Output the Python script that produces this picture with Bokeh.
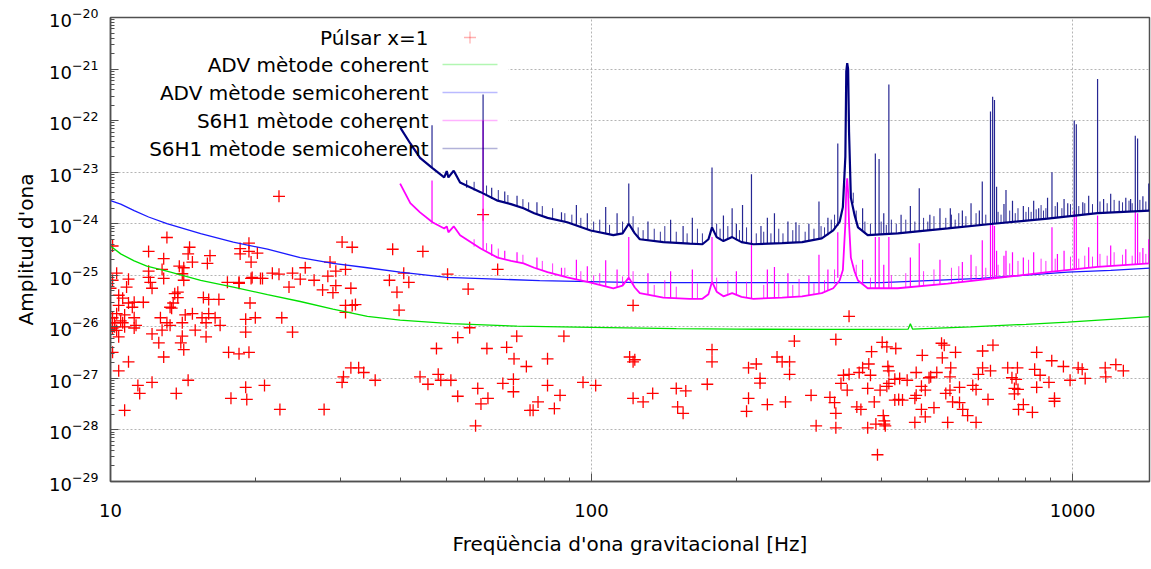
from bokeh.plotting import figure
from bokeh.models import (FixedTicker, CustomJSTickFormatter, Label, BoxAnnotation)
from bokeh.embed import file_html
from bokeh.resources import INLINE

FONT = "DejaVu Sans"

# ---------------- data ----------------
pulsar_f = [22.4, 13.1, 10.1, 12.0, 14.6, 14.5, 12.9, 16.1, 14.8, 15.9, 13.9, 14.2, 12.0, 12.8, 10.3, 12.0, 12.9, 14.1, 14.2, 10.9,
            10.1, 10.8, 12.1, 12.2, 10.0, 13.8, 17.5, 18.5, 19.6, 20.7, 19.5, 15.6, 16.0, 16.8, 13.8, 13.5, 13.3, 11.7, 11.2, 10.6,
            10.4, 10.4, 10.9, 11.1, 10.1, 10.3, 10.0, 10.2, 10.6, 10.7, 11.2, 11.3, 11.2, 10.1, 10.7, 10.4, 10.1, 10.9, 10.4, 10.7,
            11.4, 11.5, 12.2, 13.7, 14.5, 12.9, 12.6, 12.2, 12.8, 12.7, 13.1, 13.3, 14.1, 14.3, 14.8, 15.0, 14.1, 14.0, 14.2, 15.8,
            15.8, 15.5, 16.5, 16.9, 16.0, 17.6, 18.5, 19.4, 19.1, 19.1, 20.0, 23.9, 22.7, 19.1, 17.8, 19.2, 20.9, 22.5, 27.8, 30.5,
            31.6, 30.3, 21.7, 22.4, 23.5, 23.9, 24.8, 25.4, 26.5, 27.6, 28.3, 29.4, 29.4, 29.0, 30.3, 31.8, 28.6, 30.8, 31.6, 30.8,
            30.8, 31.8, 19.4, 18.6, 18.6, 19.4, 20.2, 19.6, 19.7, 20.5, 18.5, 13.6, 13.4, 10.0, 10.2, 10.5, 10.3, 10.0,
            38.6, 44.6, 40.7, 38.0, 41.7, 50.2, 63.8, 59.5, 39.4, 55.4, 32.3, 39.8, 122, 55.8, 52.7, 47.6, 60.6, 66.6, 69.9, 87.6,
            69.0, 81.0, 73.2, 120, 122, 32.8, 33.6, 35.5, 44.0, 48.0, 48.6, 51.0, 45.7, 65.4, 68.8, 68.8, 81.0, 96.0, 102, 58.0,
            52.7, 60.9, 58.9, 77.4, 86.0, 74.5, 75.6, 83.7, 57.4, 122,
            343, 264, 322, 178, 178, 123, 243, 249, 220, 212, 258, 258, 224, 224, 174, 150, 157, 134, 128, 151,
            155, 212, 210, 232, 253, 286, 293, 322, 322, 313, 320, 340, 330, 334, 343, 360, 366, 377, 380, 382,
            402, 411, 415, 415, 398, 375, 387, 356, 363, 375, 390, 404, 408, 393,
            429, 487, 534, 541, 536, 571, 650, 683, 842, 905, 957, 1047, 1062, 1169, 1230, 1275, 1172, 988, 893, 842,
            856, 834, 768, 733, 748, 763, 757, 770, 757, 650, 675, 637, 620, 630, 667, 790, 772, 825, 917, 917,
            558, 556, 522, 503, 473, 453, 437, 427, 413, 411, 485, 494, 473, 507, 545, 556, 582, 563, 582, 591,
            605, 630, 550, 515, 485, 494, 470, 435, 443, 427, 470, 406, 406, 1027]
pulsar_h = [3.4e-24, 5.4e-25, 3.7e-25, 2.9e-25, 3.5e-25, 2.6e-25, 2.1e-25, 2.4e-25, 1.8e-25, 1.7e-25, 1.5e-25, 1.4e-25, 1.2e-25, 1.3e-25, 1.1e-25, 9.1e-26, 8.7e-26, 1.07e-25, 8.0e-26, 8.4e-26,
            8.0e-26, 5.9e-26, 7.3e-26, 5.6e-26, 5.6e-26, 4.7e-26, 7.3e-26, 7.3e-26, 8.7e-26, 8.7e-26, 2.9e-26, 3.7e-26, 3.4e-26, 3.4e-26, 3.7e-26, 2.9e-26, 2.4e-26, 3.0e-26, 3.0e-26, 3.6e-26,
            4.1e-26, 2.6e-26, 2.9e-26, 2.4e-26, 1.5e-26, 1.8e-26, 1.2e-26, 1.2e-26, 1.2e-26, 1.7e-26, 1.5e-26, 1.07e-26, 9.5e-27, 9.5e-27, 1.0e-26, 6.4e-27, 3.2e-27, 2.1e-27, 1.4e-27, 2.4e-28,
            7.3e-28, 5.1e-28, 8.4e-28, 5.1e-28, 9.2e-28, 2.6e-27, 4.9e-27, 7.3e-27, 8.6e-27, 1.5e-26, 1.2e-26, 1.07e-26, 1.2e-26, 1.7e-26, 1.8e-26, 8.6e-27, 6.6e-27, 4.9e-27, 3.6e-27, 6.4e-27,
            1.2e-26, 1.5e-26, 1.5e-26, 1.07e-26, 1.8e-26, 3.2e-27, 3.0e-27, 3.2e-27, 1.4e-26, 7.9e-27, 1.5e-26, 7.9e-27, 1.5e-26, 6.7e-28, 4.1e-28, 3.9e-28, 7.3e-28, 2.5e-28, 2.5e-28, 1.07e-27,
            1.6e-27, 8.4e-28, 1.1e-25, 1.05e-25, 5.9e-26, 1.1e-25, 8.4e-26, 1.4e-25, 8.0e-26, 5.2e-26, 9.6e-26, 1.2e-25, 6.3e-26, 4.6e-26, 4.4e-25, 3.5e-25, 1.8e-25, 1.3e-25, 5.6e-26, 2.6e-26,
            1.9e-26, 2.6e-26, 4.2e-25, 3.3e-25, 2.6e-25, 2.9e-25, 2.7e-25, 1.8e-25, 9.1e-26, 8.7e-26, 7.0e-26, 4.4e-26, 2.3e-26, 1.5e-26, 1.0e-26, 1.3e-26, 8.5e-27, 9.0e-27,
            3.2e-25, 2.9e-25, 1.1e-25, 8.0e-26, 7.3e-26, 1.05e-25, 1.3e-25, 1.5e-24, 4.7e-26, 5.4e-26, 2.7e-26, 2.1e-26, 2.6e-26, 9.6e-27, 6.2e-27, 3.8e-27, 3.8e-27, 4.0e-27, 6.6e-27, 6.6e-27,
            2.4e-27, 2.4e-27, 1.7e-27, 2.6e-27, 2.1e-27, 1.6e-27, 1.3e-27, 9.2e-28, 1.07e-27, 1.2e-27, 9.2e-28, 9.2e-28, 7.7e-28, 8.0e-28, 9.6e-28, 5.5e-28, 7.3e-28, 8.4e-28, 7.3e-28, 6.4e-28,
            4.5e-28, 4.1e-28, 3.2e-28, 3.5e-28, 4.7e-28, 2.4e-28, 2.4e-28, 2.6e-28, 1.2e-28, 4.1e-28,
            1.6e-26, 5.3e-27, 5.7e-27, 3.6e-27, 2.1e-27, 2.3e-27, 2.6e-27, 2.1e-27, 1.9e-27, 1.6e-27, 2.1e-27, 1.2e-27, 1.0e-27, 8.1e-28, 7.7e-28, 6.4e-28, 5.7e-28, 5.1e-28, 3.5e-28, 2.8e-28,
            2.1e-28, 4.1e-28, 2.3e-28, 3.1e-28, 3.5e-28, 4.7e-28, 1.2e-28, 1.1e-28, 2.1e-28, 4.3e-28, 3.4e-28, 5.9e-28, 8.0e-28, 1.15e-27, 1.2e-27, 1.3e-27, 1.6e-27, 1.9e-27, 1.15e-27, 3.3e-27,
            5.0e-27, 4.1e-27, 1.4e-27, 8.0e-28, 5.9e-28, 6.4e-28, 3.5e-28, 2.8e-28, 2.5e-28, 1.1e-28, 1.3e-28, 1.9e-28, 1.2e-28, 3.3e-29,
            3.8e-27, 2.8e-27, 4.8e-27, 4.4e-27, 2.5e-27, 3.2e-27, 3.4e-27, 4.4e-27, 3.2e-27, 2.2e-27, 1.7e-27, 1.5e-27, 1.0e-27, 1.6e-27, 1.85e-27, 1.4e-27, 1.07e-27, 9.2e-28, 8.4e-28, 6.7e-28,
            1.15e-27, 1.5e-27, 1.6e-27, 1.6e-27, 1.03e-27, 9.6e-28, 6.4e-28, 6.1e-28, 5.0e-28, 1.6e-27, 1.4e-27, 1.2e-27, 7.3e-28, 6.1e-28, 3.9e-28, 3.1e-28, 2.5e-28, 2.2e-28, 4.1e-28, 3.6e-28,
            1.6e-27, 1.07e-27, 1.3e-27, 1.03e-27, 1.3e-27, 9.2e-28, 1.0e-27, 9.6e-28, 1.7e-27, 7.0e-28, 7.0e-28, 5.9e-28, 4.7e-28, 1.07e-27, 5.1e-28, 5.9e-28, 6.7e-28, 3.5e-28, 3.4e-28, 2.5e-28,
            1.9e-28, 1.4e-28, 1.4e-28, 2.7e-28, 2.5e-28, 1.8e-28, 1.4e-28, 3.9e-28, 3.8e-28, 3.8e-28, 4.1e-28, 1.5e-28, 1.3e-28, 1.6e-27]

adv_coh_f = [10, 10.5, 11.2, 11.9, 13.1, 15.4, 18, 21.2, 24.8, 29, 34.2, 40, 51, 70, 100, 150, 200, 300, 400, 455, 460, 465, 614, 800, 977, 1200, 1450]
adv_coh_h = [3.7e-25, 2.6e-25, 1.9e-25, 1.5e-25, 1.2e-25, 8.0e-26, 5.9e-26, 4.2e-26, 3.1e-26, 2.2e-26, 1.6e-26, 1.35e-26, 1.15e-26, 1.03e-26,
             9.8e-27, 9.2e-27, 9.0e-27, 8.9e-27, 8.9e-27, 9.0e-27, 1.15e-26, 9.0e-27, 1.0e-26, 1.12e-26, 1.23e-26, 1.4e-26, 1.58e-26]

adv_semi_f = [10, 10.5, 11.2, 12.0, 13.1, 15.4, 18, 21.2, 24.8, 29, 34.2, 40, 50, 78, 126, 200, 400, 644, 977, 1200, 1450]
adv_semi_h = [2.8e-24, 2.4e-24, 1.8e-24, 1.35e-24, 1.0e-24, 6.4e-25, 4.4e-25, 3.2e-25, 2.2e-25, 1.7e-25, 1.4e-25, 1.15e-25, 9.1e-26,
              7.9e-26, 7.2e-26, 7.2e-26, 7.2e-26, 8.7e-26, 1.15e-25, 1.25e-25, 1.38e-25]

s6_coh_f = [40, 42, 44, 46.7, 49.4, 50.0, 50.4, 51.7, 53.3, 58.8, 63.8, 68, 72.2, 76, 81, 89, 99.6, 111, 116, 119.5, 123, 126, 141, 160,
            170, 175, 178, 182, 188, 196, 205, 217, 249, 274, 301, 318, 328, 333, 337, 338.5, 340, 341.5, 343, 346, 352, 358, 375, 433,
            550, 685, 887, 1127, 1445]
s6_coh_h = [6.0e-24, 2.5e-24, 1.66e-24, 1.07e-24, 8.1e-25, 8.9e-25, 6.8e-25, 8.9e-25, 6.0e-25, 3.3e-25, 2.2e-25, 1.9e-25, 1.7e-25, 1.4e-25,
            1.15e-25, 9.1e-26, 7.2e-26, 5.6e-26, 6.3e-26, 9.0e-26, 5.8e-26, 4.5e-26, 3.7e-26, 3.5e-26, 3.5e-26, 4.3e-26, 7.5e-26, 4.8e-26,
            3.9e-26, 4.5e-26, 3.8e-26, 3.5e-26, 3.7e-26, 3.9e-26, 4.5e-26, 5.6e-26, 8.0e-26, 1.26e-25, 1.0e-24, 5.0e-24, 7.6e-24, 4.0e-24,
            1.0e-24, 2.2e-25, 1.2e-25, 7.9e-26, 5.6e-26, 5.6e-26, 6.9e-26, 8.7e-26, 1.15e-25, 1.45e-25, 1.7e-25]

s6_semi_f = s6_coh_f
s6_semi_h = [7.4e-23, 3.6e-23, 1.9e-23, 1.2e-23, 7.9e-24, 1.05e-23, 7.9e-24, 1.07e-23, 6.3e-24, 4.1e-24, 2.8e-24, 2.4e-24, 2.0e-24, 1.6e-24,
             1.3e-24, 1.07e-24, 7.4e-25, 6.0e-25, 6.5e-25, 1.0e-24, 6.5e-25, 5.0e-25, 4.4e-25, 4.1e-25, 4.0e-25, 5.0e-25, 8.5e-25, 5.5e-25,
             4.6e-25, 5.5e-25, 4.4e-25, 4.0e-25, 4.2e-25, 4.4e-25, 5.2e-25, 7.4e-25, 1.1e-24, 2.1e-24, 2.0e-23, 9.0e-22, 1.3e-21, 1.0e-21,
             6.0e-23, 3.2e-24, 1.5e-24, 8.5e-25, 6.0e-25, 6.5e-25, 8.1e-25, 1.0e-24, 1.26e-24, 1.6e-24, 1.8e-24]

# narrow lines (spikes) of the S6H1 spectra: frequency, peak value, floor value
coh_spike_f = [46.6, 59.5, 86.6, 107, 119.5, 178, 215, 240, 297, 325, 389, 396, 415, 480, 649, 675, 682, 688, 695, 727, 906, 1008,
               1018, 1127, 1350, 1365, 1440, 62, 66, 70, 77, 93, 98, 113, 131, 146, 162, 200, 232, 256, 283, 310, 366, 405, 460, 530,
               590, 615, 720, 750, 790, 830, 930, 960, 1080, 1200, 1290, 1400]
coh_spike_top = [6.9e-24, 1.0e-22, 1.4e-25, 1.95e-25, 5.5e-25, 5.5e-25, 4.8e-25, 1.45e-25, 2.5e-25, 6.8e-25, 5.5e-25, 5.5e-25, 5.5e-25,
                 4.2e-25, 4.8e-25, 1.0e-24, 1.07e-24, 9.0e-25, 3.0e-25, 3.0e-25, 8.5e-25, 1.8e-24, 1.5e-24, 1.45e-24, 1.8e-24, 1.6e-24,
                 5.0e-25, 4.0e-25, 3.0e-25, 2.8e-25, 2.2e-25, 2.0e-25, 1.5e-25, 1.3e-25, 1.1e-25, 1.2e-25, 1.3e-25, 1.2e-25, 1.3e-25,
                 1.1e-25, 1.0e-25, 1.3e-25, 2.0e-25, 1.6e-25, 2.2e-25, 2.0e-25, 1.8e-25, 2.5e-25, 2.4e-25, 2.8e-25, 2.2e-25, 2.8e-25,
                 2.6e-25, 3.0e-25, 3.5e-25, 3.8e-25, 3.2e-25, 3.4e-25]
coh_spike_base = [1.07e-24, 3.2e-25, 9.8e-26, 6.0e-26, 9.0e-26, 7.5e-26, 3.5e-26, 3.6e-26, 4.5e-26, 9.0e-26, 5.6e-26, 5.6e-26, 5.6e-26,
                  6.0e-26, 8.3e-26, 8.6e-26, 8.7e-26, 8.7e-26, 8.8e-26, 9.2e-26, 1.17e-25, 1.28e-25, 1.29e-25, 1.45e-25, 1.6e-25, 1.62e-25,
                  1.7e-25, 2.4e-25, 2.1e-25, 1.8e-25, 1.35e-25, 8.5e-26, 7.4e-26, 5.8e-26, 4.2e-26, 3.6e-26, 3.5e-26, 4.2e-26, 3.6e-26,
                  3.8e-26, 4.1e-26, 5.0e-26, 6.5e-26, 5.6e-26, 5.9e-26, 6.7e-26, 7.4e-26, 7.8e-26, 9.1e-26, 9.6e-26, 1.03e-25, 1.08e-25,
                  1.2e-25, 1.23e-25, 1.38e-25, 1.5e-25, 1.57e-25, 1.67e-25]

coh_grass_f = [57, 60.5, 64, 72, 79, 83, 88, 95, 101, 104, 116, 122, 135, 142, 150, 166, 182, 192, 210, 228, 245, 262, 270, 290, 305,
               320, 355, 380, 420, 450, 490, 515, 560, 580, 630, 660, 700, 740, 770, 810, 860, 880, 920, 990, 1030, 1060, 1100, 1140,
               1180, 1220, 1270, 1330, 1380, 1420]
coh_grass_top = [5.0e-25, 4.2e-25, 3.3e-25, 2.5e-25, 1.9e-25, 1.7e-25, 1.4e-25, 1.2e-25, 1.0e-25, 1.1e-25, 9.5e-26, 1.2e-25, 6.5e-26,
                 8.0e-26, 6.0e-26, 7.0e-26, 9.0e-26, 8.0e-26, 7.5e-26, 6.5e-26, 7.0e-26, 6.5e-26, 8.5e-26, 7.0e-26, 8.0e-26, 1.3e-25,
                 1.6e-25, 9.0e-26, 1.0e-25, 1.1e-25, 1.2e-25, 1.3e-25, 1.4e-25, 1.5e-25, 1.5e-25, 1.4e-25, 1.6e-25, 1.7e-25, 1.9e-25,
                 2.0e-25, 2.1e-25, 1.9e-25, 2.1e-25, 2.3e-25, 2.1e-25, 2.4e-25, 2.3e-25, 2.6e-25, 2.4e-25, 2.8e-25, 2.5e-25, 2.4e-25,
                 2.8e-25, 2.6e-25]
coh_grass_base = [3.6e-25, 3.0e-25, 2.2e-25, 1.7e-25, 1.25e-25, 1.1e-25, 9.3e-26, 8.0e-26, 7.0e-26, 6.5e-26, 6.3e-26, 6.5e-26, 4.0e-26,
                  3.7e-26, 3.6e-26, 3.5e-26, 4.8e-26, 4.3e-26, 3.7e-26, 3.5e-26, 3.7e-26, 3.8e-26, 3.9e-26, 4.2e-26, 4.8e-26, 6.8e-26,
                  9.5e-26, 5.6e-26, 5.6e-26, 5.8e-26, 6.2e-26, 6.5e-26, 7.0e-26, 7.2e-26, 7.9e-26, 8.3e-26, 8.8e-26, 9.4e-26, 9.8e-26,
                  1.04e-25, 1.11e-25, 1.14e-25, 1.19e-25, 1.27e-25, 1.32e-25, 1.36e-25, 1.42e-25, 1.47e-25, 1.5e-25, 1.53e-25, 1.56e-25,
                  1.6e-25, 1.64e-25, 1.68e-25]

semi_spike_f = [46.6, 59.5, 86.6, 107, 119.5, 178, 188, 196, 206, 215, 240, 266, 297, 325, 389, 396, 415, 480, 557, 649, 675, 682,
                688, 695, 727, 887, 906, 977, 1008, 1018, 1127, 1320, 1350, 1365, 1440, 55, 62, 66, 70, 77, 93, 98, 113, 131, 146, 155,
                162, 200, 225, 232, 256, 283, 310, 366, 405, 440, 460, 505, 530, 590, 615, 640, 720, 750, 790, 830, 850, 930, 960, 1050,
                1080, 1160, 1200, 1250, 1290, 1400]
semi_spike_top = [8.1e-23, 3.2e-22, 1.66e-24, 2.1e-24, 6.0e-24, 1.23e-23, 1.45e-24, 2.0e-24, 2.3e-24, 9.1e-24, 1.6e-24, 1.07e-24,
                  2.7e-24, 3.6e-23, 2.3e-23, 1.8e-23, 5.0e-22, 4.9e-24, 2.0e-24, 6.6e-24, 1.5e-22, 2.9e-22, 2.5e-22, 5.2e-24, 4.5e-24,
                  3.2e-24, 1.0e-23, 2.5e-24, 1.0e-22, 8.5e-23, 6.4e-22, 3.0e-24, 5.1e-23, 4.5e-23, 6.0e-24, 7.0e-24, 5.0e-24, 4.2e-24,
                  3.5e-24, 2.6e-24, 2.3e-24, 1.6e-24, 1.6e-24, 1.1e-24, 1.2e-24, 9.0e-25, 1.3e-24, 1.0e-24, 9.0e-25, 1.3e-24, 1.1e-24,
                  1.0e-24, 1.3e-24, 2.0e-24, 1.6e-24, 1.5e-24, 2.2e-24, 1.5e-24, 2.0e-24, 1.8e-24, 2.5e-24, 1.8e-24, 2.4e-24, 2.8e-24,
                  2.2e-24, 2.8e-24, 2.0e-24, 2.6e-24, 3.0e-24, 2.6e-24, 3.5e-24, 3.0e-24, 3.8e-24, 2.8e-24, 3.2e-24, 3.4e-24]
semi_spike_base = [1.2e-23, 4.1e-24, 1.1e-24, 6.3e-25, 1.0e-24, 8.5e-25, 4.6e-25, 5.5e-25, 4.4e-25, 4.0e-25, 4.2e-25, 4.3e-25,
                   5.2e-25, 9.0e-25, 6.2e-25, 6.2e-25, 6.3e-25, 7.0e-25, 8.1e-25, 9.5e-25, 1.0e-24, 1.0e-24, 1.0e-24, 1.0e-24, 1.05e-24,
                   1.26e-24, 1.28e-24, 1.35e-24, 1.38e-24, 1.4e-24, 1.6e-24, 1.7e-24, 1.72e-24, 1.73e-24, 1.8e-24, 5.0e-24, 3.0e-24,
                   2.6e-24, 2.2e-24, 1.55e-24, 9.5e-25, 7.8e-25, 6.2e-25, 4.8e-25, 4.3e-25, 4.2e-25, 4.1e-25, 4.8e-25, 4.1e-25, 4.1e-25,
                   4.3e-25, 4.7e-25, 6.0e-25, 7.0e-25, 6.2e-25, 6.6e-25, 6.8e-25, 7.3e-25, 7.7e-25, 8.6e-25, 9.0e-25, 9.4e-25, 1.04e-24,
                   1.07e-24, 1.13e-24, 1.18e-24, 1.2e-24, 1.33e-24, 1.37e-24, 1.48e-24, 1.52e-24, 1.62e-24, 1.65e-24, 1.68e-24, 1.7e-24,
                   1.77e-24]

semi_grass_f = [57, 60.5, 64, 67, 72, 74, 79, 83, 88, 91, 95, 101, 104, 109, 116, 122, 125, 128, 135, 139, 142, 150, 158, 166, 170,
                182, 185, 192, 203, 210, 220, 228, 236, 245, 250, 262, 270, 278, 290, 300, 305, 315, 320, 350, 355, 370, 380, 400, 410,
                420, 430, 450, 470, 490, 500, 515, 545, 560, 570, 580, 600, 630, 660, 700, 710, 740, 760, 770, 800, 810, 820, 840, 860,
                870, 880, 920, 950, 990, 1030, 1060, 1100, 1140, 1180, 1220, 1270, 1310, 1330, 1380, 1420]
semi_grass_top = [6.5e-24, 5.5e-24, 4.5e-24, 3.6e-24, 3.0e-24, 2.6e-24, 2.2e-24, 2.0e-24, 1.6e-24, 1.5e-24, 1.3e-24, 1.1e-24, 1.2e-24,
                  9.5e-25, 1.1e-24, 1.4e-24, 8.5e-25, 7.5e-25, 8.0e-25, 7.0e-25, 9.0e-25, 7.0e-25, 6.5e-25, 8.0e-25, 6.5e-25, 1.0e-24,
                  8.0e-25, 9.0e-25, 7.5e-25, 8.5e-25, 6.5e-25, 7.0e-25, 6.5e-25, 8.0e-25, 6.5e-25, 7.5e-25, 9.5e-25, 7.0e-25, 8.0e-25,
                  9.0e-25, 8.5e-25, 1.2e-24, 1.5e-24, 4.0e-24, 1.8e-24, 1.1e-24, 1.0e-24, 1.1e-24, 9.5e-25, 1.2e-24, 1.0e-24, 1.2e-24,
                  1.1e-24, 1.3e-24, 1.1e-24, 1.4e-24, 1.3e-24, 1.5e-24, 1.2e-24, 1.6e-24, 1.4e-24, 1.6e-24, 1.5e-24, 1.7e-24, 1.5e-24,
                  1.8e-24, 1.6e-24, 2.0e-24, 1.7e-24, 2.1e-24, 1.7e-24, 1.9e-24, 2.3e-24, 1.8e-24, 2.0e-24, 2.2e-24, 2.0e-24, 2.4e-24,
                  2.2e-24, 2.5e-24, 2.4e-24, 2.7e-24, 2.5e-24, 2.9e-24, 2.6e-24, 2.8e-24, 2.5e-24, 2.9e-24, 2.7e-24]
semi_grass_base = [4.4e-24, 3.6e-24, 2.8e-24, 2.5e-24, 2.0e-24, 1.8e-24, 1.4e-24, 1.25e-24, 1.08e-24, 1.0e-24, 8.5e-25, 7.2e-25,
                   6.8e-25, 6.2e-25, 6.5e-25, 7.0e-25, 5.3e-25, 4.9e-25, 4.6e-25, 4.4e-25, 4.4e-25, 4.2e-25, 4.1e-25, 4.0e-25, 4.0e-25,
                   5.5e-25, 5.0e-25, 5.0e-25, 4.5e-25, 4.2e-25, 4.0e-25, 4.05e-25, 4.1e-25, 4.2e-25, 4.2e-25, 4.3e-25, 4.35e-25, 4.5e-25,
                   4.8e-25, 5.2e-25, 5.6e-25, 7.0e-25, 8.0e-25, 2.5e-24, 1.1e-24, 6.5e-25, 6.0e-25, 6.2e-25, 6.3e-25, 6.4e-25, 6.5e-25,
                   6.7e-25, 6.9e-25, 7.2e-25, 7.3e-25, 7.5e-25, 8.0e-25, 8.2e-25, 8.4e-25, 8.5e-25, 8.8e-25, 9.2e-25, 9.6e-25, 1.01e-24,
                   1.02e-24, 1.06e-24, 1.09e-24, 1.1e-24, 1.14e-24, 1.15e-24, 1.17e-24, 1.2e-24, 1.22e-24, 1.24e-24, 1.25e-24, 1.32e-24,
                   1.36e-24, 1.4e-24, 1.45e-24, 1.49e-24, 1.55e-24, 1.61e-24, 1.64e-24, 1.66e-24, 1.69e-24, 1.71e-24, 1.72e-24, 1.75e-24,
                   1.78e-24]

legend_labels = ["Púlsar x=1", "ADV mètode coherent", "ADV mètode semicoherent",
                 "S6H1 mètode coherent", "S6H1 mètode semicoherent"]

x_major = [10, 100, 1000]
y_major = [10.0 ** e for e in range(-29, -19)]

# ---------------- colours ----------------
C_PULSAR = "#ff0000"
C_ADV_COH = "#00e000"
C_ADV_SEMI = "#1a1aff"
C_S6_COH = "#ff00ff"
C_S6_SEMI = "#000080"

# ---------------- figure ----------------
p = figure(width=1151, height=569, x_axis_type="log", y_axis_type="log",
           x_range=(10, 1445), y_range=(1e-29, 1e-20),
           output_backend="svg", toolbar_location=None,
           min_border_left=110, min_border_right=2, min_border_top=17, min_border_bottom=88)
p.background_fill_color = "white"
p.border_fill_color = "white"
p.outline_line_color = "#505050"
p.outline_line_width = 1.5

x_minor = [m * 10 ** e for e in (1, 2) for m in range(2, 10)]
y_minor = [m * 10.0 ** e for e in range(-29, -20) for m in range(2, 10)]
p.xaxis.ticker = FixedTicker(ticks=x_major, minor_ticks=x_minor)
p.yaxis.ticker = FixedTicker(ticks=y_major, minor_ticks=y_minor)
p.xaxis.formatter = CustomJSTickFormatter(code="return tick.toFixed(0);")

for ax in (p.xaxis[0], p.yaxis[0]):
    ax.major_tick_in = 8
    ax.major_tick_out = 0
    ax.minor_tick_in = 4
    ax.minor_tick_out = 0
    ax.axis_line_color = "#505050"
    ax.axis_line_width = 1.5
    ax.major_tick_line_color = "#505050"
    ax.minor_tick_line_color = "#505050"
    ax.major_label_text_font = FONT
    ax.major_label_text_font_size = "18px"
    ax.major_label_text_color = "#000000"
    ax.axis_label_text_font = FONT
    ax.axis_label_text_font_size = "20px"
    ax.axis_label_text_font_style = "normal"
    ax.axis_label_text_color = "#000000"

p.xaxis.axis_label = "Freqüència d'ona gravitacional [Hz]"
p.yaxis.axis_label = "Amplitud d'ona"
p.xaxis.major_label_standoff = 22
p.xaxis.axis_label_standoff = 12
p.yaxis.major_label_standoff = 12
p.yaxis.axis_label_standoff = 8

p.grid.grid_line_color = "#b4b4b4"
p.grid.grid_line_dash = "2 2"
p.grid.grid_line_width = 1
p.xgrid.ticker = FixedTicker(ticks=x_major)
p.ygrid.ticker = FixedTicker(ticks=y_major)

# opaque key area (behind the data, above the grid)
p.add_layout(BoxAnnotation(left=8, right=398, top=456, bottom=318,
                           left_units="screen", right_units="screen",
                           top_units="screen", bottom_units="screen",
                           fill_color="white", fill_alpha=1.0, line_color=None,
                           level="underlay"))

# ---------------- data glyphs ----------------
p.scatter(pulsar_f, pulsar_h, marker="cross", size=12, line_color=C_PULSAR, line_width=1.3)
p.line(adv_coh_f, adv_coh_h, line_color=C_ADV_COH, line_width=1.3)
p.line(adv_semi_f, adv_semi_h, line_color=C_ADV_SEMI, line_width=1.3)

p.segment(x0=coh_grass_f, y0=coh_grass_base, x1=coh_grass_f, y1=coh_grass_top,
          line_color=C_S6_COH, line_width=1.0, line_alpha=0.8)
p.line(s6_coh_f, s6_coh_h, line_color=C_S6_COH, line_width=1.8)
p.segment(x0=coh_spike_f, y0=coh_spike_base, x1=coh_spike_f, y1=coh_spike_top,
          line_color=C_S6_COH, line_width=1.2)

p.segment(x0=semi_grass_f, y0=semi_grass_base, x1=semi_grass_f, y1=semi_grass_top,
          line_color=C_S6_SEMI, line_width=1.0, line_alpha=0.8)
p.line(s6_semi_f, s6_semi_h, line_color=C_S6_SEMI, line_width=2.2)
p.segment(x0=semi_spike_f, y0=semi_spike_base, x1=semi_spike_f, y1=semi_spike_top,
          line_color=C_S6_SEMI, line_width=1.2, line_alpha=0.85)

# ---------------- key ----------------
row_y = [444, 417, 389, 361, 333]          # screen px from frame bottom
key_colors = [C_PULSAR, C_ADV_COH, C_ADV_SEMI, C_S6_COH, C_S6_SEMI]
for lab, yy, col in zip(legend_labels, row_y, key_colors):
    p.add_layout(Label(x=318, y=yy, x_units="screen", y_units="screen", text=lab,
                       text_align="right", text_baseline="middle",
                       text_font=FONT, text_font_size="20px", text_color="#000000"))
    if col == C_PULSAR:
        p.add_layout(BoxAnnotation(left=353.5, right=365.5, top=yy, bottom=yy,
                                   left_units="screen", right_units="screen",
                                   top_units="screen", bottom_units="screen",
                                   fill_alpha=0, line_color=col, line_width=1.3))
        p.add_layout(BoxAnnotation(left=359.5, right=359.5, top=yy + 6, bottom=yy - 6,
                                   left_units="screen", right_units="screen",
                                   top_units="screen", bottom_units="screen",
                                   fill_alpha=0, line_color=col, line_width=1.3))
    else:
        p.add_layout(BoxAnnotation(left=332, right=387, top=yy, bottom=yy,
                                   left_units="screen", right_units="screen",
                                   top_units="screen", bottom_units="screen",
                                   fill_alpha=0, line_color=col, line_width=1.3))

open("out.html", "w").write(file_html(p, INLINE))
